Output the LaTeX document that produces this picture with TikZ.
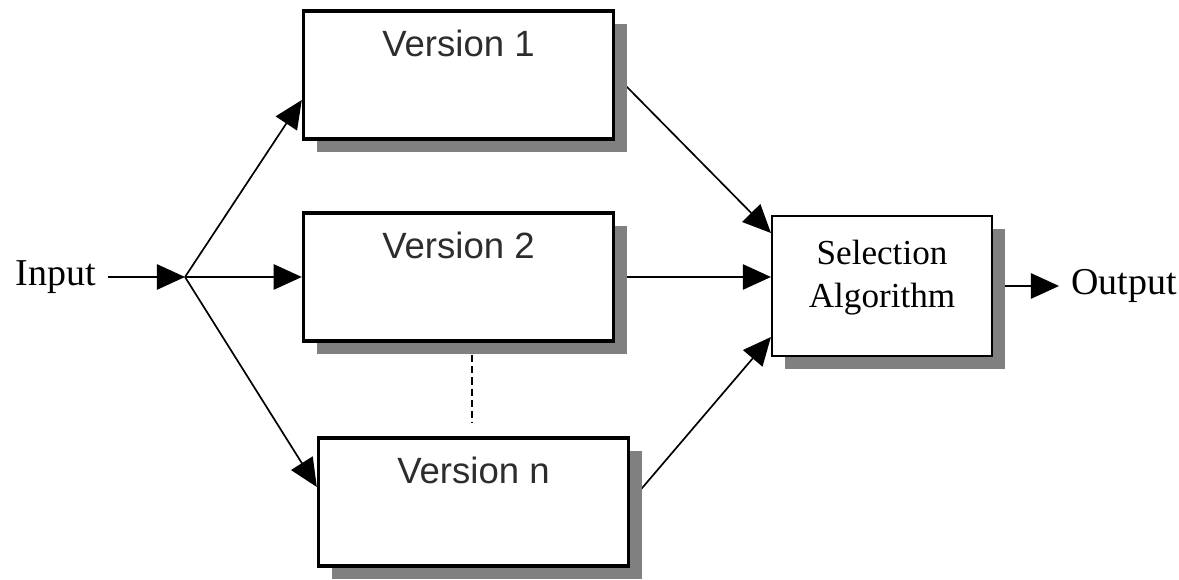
\documentclass[tikz,border=0pt]{standalone}
\usepackage{fontspec}
\setmainfont{Liberation Serif}
\newfontfamily\versionfont{Liberation Sans}
\usetikzlibrary{arrows.meta, positioning, calc, shadows, backgrounds}
\definecolor{ShadowGray}{RGB}{128,128,128}
\definecolor{LabelText}{RGB}{45,45,45}

\tikzset{
  boxshadow/.style={drop shadow={shadow xshift=0.33cm, shadow yshift=-0.33cm, fill=ShadowGray, opacity=1}},
  version/.style={draw, line width=2.4pt, fill=white, inner sep=0pt,
    minimum width=7.75cm, minimum height=3.2cm, boxshadow},
  vtext/.style={anchor=center, yshift=-0.85cm, text=LabelText,
    font=\versionfont\fontsize{26}{30}\selectfont},
  selbox/.style={draw, line width=1.5pt, fill=white, inner sep=0pt,
    minimum width=5.5cm, minimum height=3.5cm, boxshadow},
  seltext/.style={anchor=center, yshift=0.2cm, align=center,
    font=\fontsize{25}{30.5}\selectfont},
  io/.style={font=\fontsize{27}{32}\selectfont, inner sep=0pt},
  connector/.style={line width=1.2pt, -{Triangle[length=20pt, width=18pt]}},
  dashline/.style={line width=1.3pt, dash pattern=on 5pt off 3pt}
}

\begin{document}
\begin{tikzpicture}
  \useasboundingbox (0,0) rectangle (29.475,14.5);

  % the n versions
  \node[version, label={[vtext]north:Version 1}] (v1) at (11.4625,12.625) {};
  \node[version, label={[vtext]north:Version 2}] (v2) at (11.4625,7.575) {};
  \node[version, label={[vtext]north:Version n}] (vn) at (11.8375,1.95) {};

  % voter
  \node[selbox, label={[seltext]center:Selection\\Algorithm}] (sel) at (22.05,7.35) {};

  % input and output
  \coordinate (fork) at (4.625,7.575);
  \node[io, anchor=east] (in) at (2.4,7.575) {Input};
  \node[io, right=1.95cm of sel] (out) {Output};

  \coordinate (dtop) at (11.8,5.625);
  \coordinate (dbot) at (11.8,3.925);

  \begin{scope}[on background layer]
    \draw[connector] ([xshift=0.3cm]in.east) -- (fork);
    \draw[connector] (fork) -- ([yshift=-0.625cm]v1.west);
    \draw[connector] (fork) -- (v2.west);
    \draw[connector] (fork) -- ([yshift=0.375cm]vn.west);
    \draw[connector] (v1.east) -- ([yshift=1.325cm]sel.west);
    \draw[connector] (v2.east) -- (sel.west |- v2.east);
    \draw[connector] (vn.east) -- ([yshift=-1.275cm]sel.west);
    \draw[connector] (sel.east) -- ([xshift=-0.3cm]out.west);
  \end{scope}
  \draw[dashline] (dtop) -- (dbot);
\end{tikzpicture}
\end{document}
